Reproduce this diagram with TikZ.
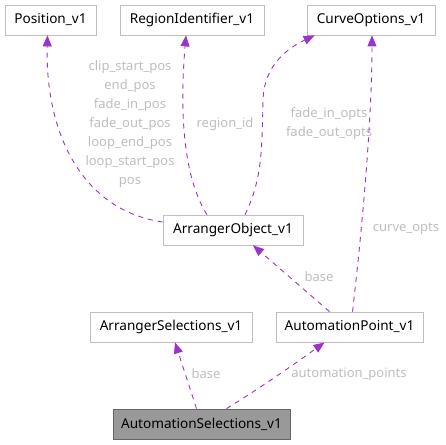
\documentclass[tikz,border=0pt]{standalone}
\usepackage{fontspec}
\setmainfont{Noto Sans}
\usetikzlibrary{arrows.meta,positioning}
\definecolor{edgepurple}{RGB}{154,50,205}
\definecolor{labelgray}{RGB}{190,190,190}
\definecolor{boxgray}{RGB}{191,191,191}
\tikzset{
  classbox/.style={draw=boxgray,line width=0.8pt,fill=white,minimum height=30pt,
    inner sep=0pt,font=\fontsize{13.6}{15}\selectfont},
  mainbox/.style={classbox,draw=black!60,fill=black!40},
  usage/.style={draw=edgepurple,line width=0.9pt,dash pattern=on 5pt off 5pt,
    -{Triangle[length=11pt,width=9pt]}},
  memb/.style={text=labelgray,font=\fontsize{13}{19}\selectfont,align=center,inner sep=0pt}
}
\begin{document}
\begin{tikzpicture}[x=1pt,y=-1pt]
\useasboundingbox (0,0) rectangle (446,444);
\node[classbox,minimum width=91pt] (pos) at (50.5,20) {Position\_v1};
\node[classbox,minimum width=144pt] (regid) at (192,20) {RegionIdentifier\_v1};
\node[classbox,minimum width=128pt] (curve) at (371,20) {CurveOptions\_v1};
\node[classbox,minimum width=140pt] (arrobj) at (233,230) {ArrangerObject\_v1};
\node[classbox,minimum width=162pt] (arrsel) at (171,327) {ArrangerSelections\_v1};
\node[classbox,minimum width=147pt] (autopt) at (349.5,327) {AutomationPoint\_v1};
\node[mainbox,minimum width=177pt] (autosel) at (201.5,424) {AutomationSelections\_v1};

% members of ArrangerObject_v1
\draw[usage] ([yshift=8pt]arrobj.west) .. controls (80,210) and (45,130) .. ([xshift=-3pt]pos.south);
\node[memb] (posnames) at (130,124) {clip\_start\_pos\\end\_pos\\fade\_in\_pos\\fade\_out\_pos\\loop\_end\_pos\\loop\_start\_pos\\pos};
\draw[usage] ([xshift=-26pt]arrobj.north) .. controls (188,185) and (178,130) .. ([xshift=-6pt]regid.south);
\node[memb] (regidname) at (225,124) {region\_id};
\draw[usage] ([xshift=12pt]arrobj.north) .. controls (262,180) and (262,150) .. (263,100)
  .. controls (264,65) and (288,48) .. ([xshift=8pt]curve.south west);
\node[memb] (optnames) at (329,124) {fade\_in\_opts\\fade\_out\_opts};

% members of AutomationPoint_v1
\draw[usage] ([xshift=3pt]autopt.north) .. controls (362,230) and (372,120) .. ([xshift=1pt]curve.south);
\node[memb] (curvename) at (406,229) {curve\_opts};
\draw[usage] ([xshift=-20pt]autopt.north) -- ([xshift=20pt]arrobj.south);
\node[memb] (basea) at (319,277) {base};

% members of AutomationSelections_v1
\draw[usage] ([xshift=-5pt]autosel.north) -- ([xshift=4pt]arrsel.south);
\node[memb] (baseb) at (206,374) {base};
\draw[usage] ([xshift=25pt]autosel.north) .. controls (265,385) and (300,360) .. ([xshift=-25pt]autopt.south);
\node[memb] (ptsname) at (349,374) {automation\_points};
\end{tikzpicture}
\end{document}
